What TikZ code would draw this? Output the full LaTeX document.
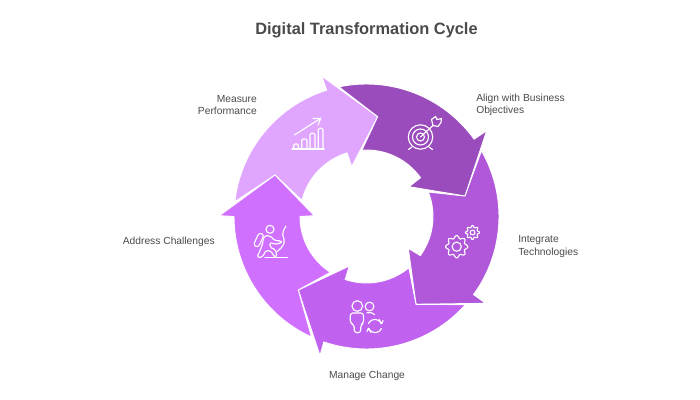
\documentclass[tikz,border=0pt]{standalone}
\usepackage{fontspec}
\setmainfont{Liberation Sans}
\definecolor{measurecol}{RGB}{224,165,255}
\definecolor{aligncol}{RGB}{154,76,188}
\definecolor{integratecol}{RGB}{176,88,217}
\definecolor{managecol}{RGB}{192,97,240}
\definecolor{addresscol}{RGB}{208,112,255}
\definecolor{labelcol}{RGB}{74,74,74}
\newcommand{\outerR}{132.5}
\newcommand{\innerR}{66.5}
\tikzset{
  sector/.style={draw=white,line width=0.7pt,line join=miter},
  icon/.style={draw=white,line width=0.85pt,line cap=round,line join=round},
  label/.style={inner sep=0pt,text=labelcol,font=\fontsize{7.7}{9.4}\selectfont},
  heading/.style={inner sep=0pt,text=labelcol,font=\fontsize{12.3}{15}\selectfont\bfseries},
}
\begin{document}
\begin{tikzpicture}[x=0.75pt,y=0.75pt,yscale=-1,xscale=1]
\useasboundingbox (0,0) rectangle (700,400);
\coordinate (ctr) at (366.5,216.5);

%Shape: Measure
\fill [measurecol,sector] ([shift={(186.4:\outerR)}]ctr) arc [start angle=186.4,end angle=252.5,radius=\outerR]
  -- (321.7,76) -- (377.7,116.7) -- (351.7,166.7)
  -- ([shift={(253:\innerR)}]ctr) arc [start angle=253,end angle=194,radius=\innerR] -- (275,175) -- cycle;
%Shape: Align
\fill [aligncol,sector] ([shift={(258:\outerR)}]ctr) arc [start angle=258,end angle=324.3,radius=\outerR]
  -- (486.7,130.7) -- (465,196) -- (409,186.7)
  -- ([shift={(324.3:\innerR)}]ctr) arc [start angle=324.3,end angle=266,radius=\innerR] -- (377.7,116.7) -- cycle;
%Shape: Integrate
\fill [integratecol,sector] ([shift={(-29.8:\outerR)}]ctr) arc [start angle=-29.8,end angle=36.1,radius=\outerR]
  -- (485.7,303.3) -- (416,304.3) -- (408.3,248.3)
  -- ([shift={(36:\innerR)}]ctr) arc [start angle=36,end angle=-21.6,radius=\innerR] -- (465,196) -- cycle;
%Shape: Manage
\fill [managecol,sector] ([shift={(41.7:\outerR)}]ctr) arc [start angle=41.7,end angle=108.8,radius=\outerR]
  -- (320,355.7) -- (298.3,290) -- (349.3,266)
  -- ([shift={(108.7:\innerR)}]ctr) arc [start angle=108.7,end angle=50.4,radius=\innerR] -- (416,304.3) -- cycle;
%Shape: Address
\fill [addresscol,sector] ([shift={(114.5:\outerR)}]ctr) arc [start angle=114.5,end angle=180,radius=\outerR]
  -- (219.3,215.7) -- (275,175) -- (314.3,215.7)
  -- ([shift={(180:\innerR)}]ctr) arc [start angle=180,end angle=122.9,radius=\innerR] -- (298.3,290) -- cycle;

%Icon: chart
\draw [icon] (292,149) -- (324.3,149);
\draw [icon,rounded corners=1pt] (293.7,149) -- (293.7,144) -- (298.3,144) -- (298.3,149);
\draw [icon,rounded corners=1pt] (301.7,149) -- (301.7,139) -- (307,139) -- (307,149);
\draw [icon,rounded corners=1pt] (310,149) -- (310,133.3) -- (315,133.3) -- (315,149);
\draw [icon,rounded corners=1pt] (318.3,149) -- (318.3,128.3) -- (323,128.3) -- (323,149);
\draw [icon] (294.3,135) -- (320.7,118.3) (313,118.5) -- (320.7,118.3) -- (318,125);

%Icon: target
\draw [icon] (420.5,137) circle [radius=12.2];
\draw [icon] (420.5,137) circle [radius=8];
\draw [icon] (420.5,137) circle [radius=4];
\draw [icon] (420.5,137) -- (433,125.5);
\draw [icon] (433,125.5) -- (431.5,119.5) -- (435.5,116.5) -- (437,119.5) -- (441.5,118.5) -- (441,122.5) -- (438,126.5) -- cycle;
\draw [icon] (412,147) -- (408.5,149.5) (429,147) -- (432.5,149.5);

%Icon: gears
\draw [icon] plot [domain=0:360,samples=65,smooth] ({456.7+9.8*cos(\x)+1.4*cos(8*\x)*cos(\x)},{246.7+9.8*sin(\x)+1.4*cos(8*\x)*sin(\x)});
\draw [icon] (456.7,246.7) circle [radius=4.6];
\draw [icon] plot [domain=0:360,samples=65,smooth] ({472.5+6*cos(\x)+1*cos(8*\x)*cos(\x)},{232.5+6*sin(\x)+1*cos(8*\x)*sin(\x)});
\draw [icon] (472.5,232.5) circle [radius=2.4];

%Icon: people
\draw [icon] (357.3,306) circle [radius=5.3];
\draw [icon] (369.5,306.5) circle [radius=4.4];
\draw [icon,rounded corners=2pt] (354.3,332.7) -- (354.3,325) -- (350.3,323.3) -- (350.3,313) -- (363.5,313) -- (363.5,323.3) -- (360.7,325) -- (360.7,332.7) -- cycle;
\draw [icon] (367,312.8) .. controls (370,312) and (372,312.5) .. (374.5,314.5);
\draw [icon] (368.5,323.5) arc [start angle=205,end angle=335,radius=7];
\draw [icon] (381.5,328.5) arc [start angle=25,end angle=155,radius=7];
\draw [icon] (379,319.5) -- (381.7,323.8) -- (383,320.5) (371,332.5) -- (368.3,328.3) -- (367,331.5);

%Icon: climber
\draw [icon] (270,229.3) circle [radius=4];
\draw [icon,rotate around={25:(258.7,240)},rounded corners=2pt] (256,233) rectangle (261.4,247);
\draw [icon,rounded corners=1.5pt] (264,236) -- (270,235.5) -- (275,241) -- (281,240.5) -- (281.5,243) -- (274,244.5) -- (270.5,242) -- (269.5,247) -- (276,250) -- (276.5,257) -- (273.5,257) -- (272.5,252) -- (266,250) -- (262.5,257.3) -- (257,257.3) -- (262,246) -- cycle;
\draw [icon] (286,226) .. controls (284,230) and (282,232) .. (282.7,235) .. controls (283.5,238) and (285,240) .. (284,243) .. controls (283,247) and (279,250) .. (276.7,251.7);
\draw [icon] (265,257.3) -- (287.3,257.3);

% Text Node
\node (heading) [heading,anchor=center] at (366.5,30) {Digital Transformation Cycle};
% Text Node
\node (measure) [label,anchor=east,align=right] at (257,105) {Measure\\Performance};
% Text Node
\node (objectives) [label,anchor=west,align=left] at (476,105) {Align with Business\\Objectives};
% Text Node
\node (technologies) [label,anchor=west,align=left] at (518,246.5) {Integrate\\Technologies};
% Text Node
\node (change) [label,anchor=center] at (367,376) {Manage Change};
% Text Node
\node (challenges) [label,anchor=east] at (215,242) {Address Challenges};

\end{tikzpicture}
\end{document}
